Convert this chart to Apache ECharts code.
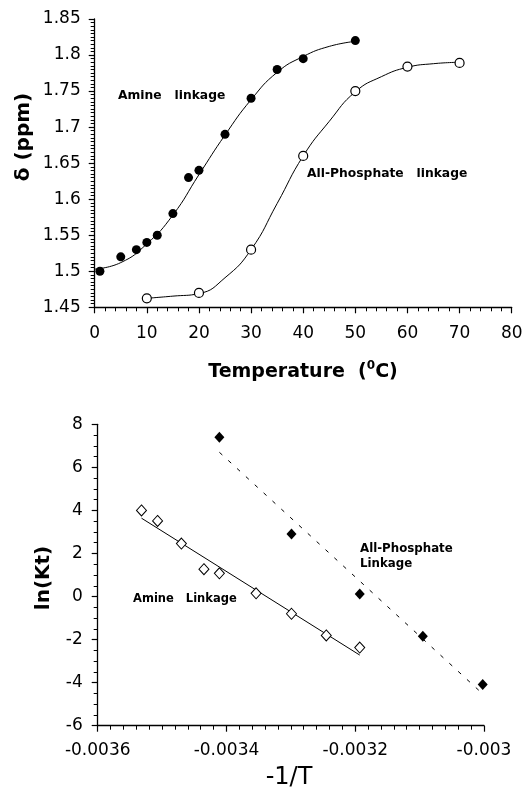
<!DOCTYPE html>
<html>
<head>
<meta charset="utf-8">
<script src="https://cdn.jsdelivr.net/npm/echarts@6.0.0/dist/echarts.min.js"></script>
<style>
    html,body{margin:0;padding:0;background:#fff;}
    #chart{width:525px;height:787px;}
</style>
</head>
<body>
<div id="chart"></div>
<script>
// 上图：温度 - 化学位移
var amineTemp=[1, 5, 8, 10, 12, 15, 18, 20, 25, 30, 35, 40, 50];
var amineShift=[1.50, 1.52, 1.53, 1.54, 1.55, 1.58, 1.63, 1.64, 1.69, 1.74, 1.78, 1.795, 1.82];
var phosTemp=[10, 20, 30, 40, 50, 60, 70];
var phosShift=[1.4625, 1.47, 1.53, 1.66, 1.75, 1.784, 1.789];
// 拟合曲线
var amineCurveT=[0, 5, 10, 15, 20, 25, 30, 35, 40, 45, 50];
var amineCurveV=[1.503, 1.512, 1.538, 1.578, 1.634, 1.689, 1.738, 1.776, 1.798, 1.812, 1.819];
var phosCurveT=[10, 15, 20, 25, 30, 35, 40, 45, 50, 55, 60, 65, 70];
var phosCurveV=[1.4625, 1.4655, 1.469, 1.491, 1.53, 1.594, 1.66, 1.708, 1.749, 1.770, 1.783, 1.788, 1.790];
var tempTicks=[0, 80, 10];
var shiftTicks=[1.45, 1.85, 0.05];

// 下图：-1/T - ln(Kt)
var amineInvT=[-0.003532, -0.003507, -0.003470, -0.003435, -0.003411, -0.003354, -0.003299, -0.003245, -0.003193];
var amineLnK=[4.0, 3.51, 2.46, 1.27, 1.08, 0.15, -0.80, -1.81, -2.37];
var phosInvT=[-0.003411, -0.003299, -0.003193, -0.003095, -0.003002];
var phosLnK=[7.40, 2.91, 0.12, -1.84, -4.09];
var amineFitX=[-0.003532, -0.003193];
var amineFitY=[3.64, -2.72];
var phosFitX=[-0.003411, -0.003005];
var phosFitY=[6.70, -4.44];
var invTTicks=[-0.0036, -0.003, 0.0002];
var lnKTicks=[-6, 8, 2];

// 简单的 extend
var $={extend:function(a,b){for(var k in b){a[k]=b[k];}return a;}};

function pairs(xs,ys){
    var out=[];
    for(var i=0;i<xs.length;i++){
        out.push([xs[i],ys[i]]);
    }
    return out;
}
function trim(v,d){
    return String(parseFloat(v.toFixed(d)));
}

var font='DejaVu Sans';
var label={color:'#000',fontFamily:font,fontSize:17};

function valueAxis(ticks,gridIndex,minor,margin,digits){
    return {
        type:'value',
        gridIndex:gridIndex,
        min:ticks[0],
        max:ticks[1],
        interval:ticks[2],
        axisLine:{onZero:false,lineStyle:{color:'#000',width:1.3}},
        axisTick:{show:true,inside:false,length:6,lineStyle:{color:'#000',width:1.2}},
        minorTick:{show:true,splitNumber:minor,length:4,lineStyle:{color:'#000',width:1}},
        splitLine:{show:false},
        axisLabel:$.extend({margin:margin,formatter:function(v){return trim(v,digits);}},label)
    };
}

var boldText={fontFamily:font,fontWeight:'bold',fill:'#000'};
var curveStyle={color:'#000',width:1};

var option={
    animation:false,
    backgroundColor:'#fff',
    grid:[
        {left:94.7,right:13.3,top:19,bottom:787-307.3,outerBoundsMode:'none'},
        {left:97.7,right:41,top:424.3,bottom:61.3,outerBoundsMode:'none'}
    ],
    xAxis:[
        valueAxis(tempTicks,0,5,18,0),
        valueAxis(invTTicks,1,10,16,4)
    ],
    yAxis:[
        valueAxis(shiftTicks,0,10,14,2),
        valueAxis(lnKTicks,1,4,15,0)
    ],
    series:[
        {
            type:'line',xAxisIndex:0,yAxisIndex:0,
            data:pairs(amineCurveT,amineCurveV),
            smooth:0.5,symbol:'none',
            lineStyle:curveStyle,z:1
        },
        {
            type:'line',xAxisIndex:0,yAxisIndex:0,
            data:pairs(phosCurveT,phosCurveV),
            smooth:0.5,symbol:'none',
            lineStyle:curveStyle,z:1
        },
        {
            type:'scatter',xAxisIndex:0,yAxisIndex:0,
            data:pairs(amineTemp,amineShift),
            symbol:'circle',symbolSize:9,
            itemStyle:{color:'#000',opacity:1},z:3
        },
        {
            type:'scatter',xAxisIndex:0,yAxisIndex:0,
            data:pairs(phosTemp,phosShift),
            symbol:'circle',symbolSize:9,
            itemStyle:{color:'#fff',borderColor:'#000',borderWidth:1.2,opacity:1},z:3
        },
        {
            type:'line',xAxisIndex:1,yAxisIndex:1,
            data:pairs(amineFitX,amineFitY),
            symbol:'none',lineStyle:curveStyle,z:1
        },
        {
            type:'line',xAxisIndex:1,yAxisIndex:1,
            data:pairs(phosFitX,phosFitY),
            symbol:'none',lineStyle:{color:'#000',width:1,type:[4,8]},z:1
        },
        {
            type:'scatter',xAxisIndex:1,yAxisIndex:1,
            data:pairs(amineInvT,amineLnK),
            symbol:'diamond',symbolSize:[10,11],
            itemStyle:{color:'#fff',borderColor:'#000',borderWidth:1,opacity:1},z:3
        },
        {
            type:'scatter',xAxisIndex:1,yAxisIndex:1,
            data:pairs(phosInvT,phosLnK),
            symbol:'diamond',symbolSize:[10,11],
            itemStyle:{color:'#000',opacity:1},z:3
        }
    ],
    graphic:[
        // 轴标题
        {type:'text',x:24,y:137,rotation:Math.PI/2,
            style:$.extend({text:'δ (ppm)',fontSize:20,align:'center',verticalAlign:'middle'},boldText)},
        {type:'text',x:303,y:372,
            style:$.extend({
                text:'Temperature  ({sup|0}C)',fontSize:19,align:'center',verticalAlign:'middle',lineHeight:24,
                rich:{sup:{fontSize:12,lineHeight:12,verticalAlign:'top',fontFamily:font,fontWeight:'bold',fill:'#000'}}
            },boldText)},
        {type:'text',x:44,y:578,rotation:Math.PI/2,
            style:$.extend({text:'ln(Kt)',fontSize:20,align:'center',verticalAlign:'middle'},boldText)},
        {type:'text',x:289,y:778,
            style:{text:'-1/T',fontSize:24,fontFamily:font,fill:'#000',align:'center',verticalAlign:'middle'}},
        // 曲线标注
        {type:'text',x:118,y:96,
            style:$.extend({text:'Amine   linkage',fontSize:12.3,verticalAlign:'middle'},boldText)},
        {type:'text',x:307,y:174,
            style:$.extend({text:'All-Phosphate   linkage',fontSize:12.3,verticalAlign:'middle'},boldText)},
        {type:'text',x:133,y:599,
            style:$.extend({text:'Amine   Linkage',fontSize:11.5,verticalAlign:'middle'},boldText)},
        {type:'text',x:360,y:549,
            style:$.extend({text:'All-Phosphate',fontSize:11.8,verticalAlign:'middle'},boldText)},
        {type:'text',x:360,y:564,
            style:$.extend({text:'Linkage',fontSize:11.8,verticalAlign:'middle'},boldText)}
    ]
};

var myChart=echarts.init(document.getElementById('chart'));
myChart.setOption(option);
</script>
</body>
</html>
